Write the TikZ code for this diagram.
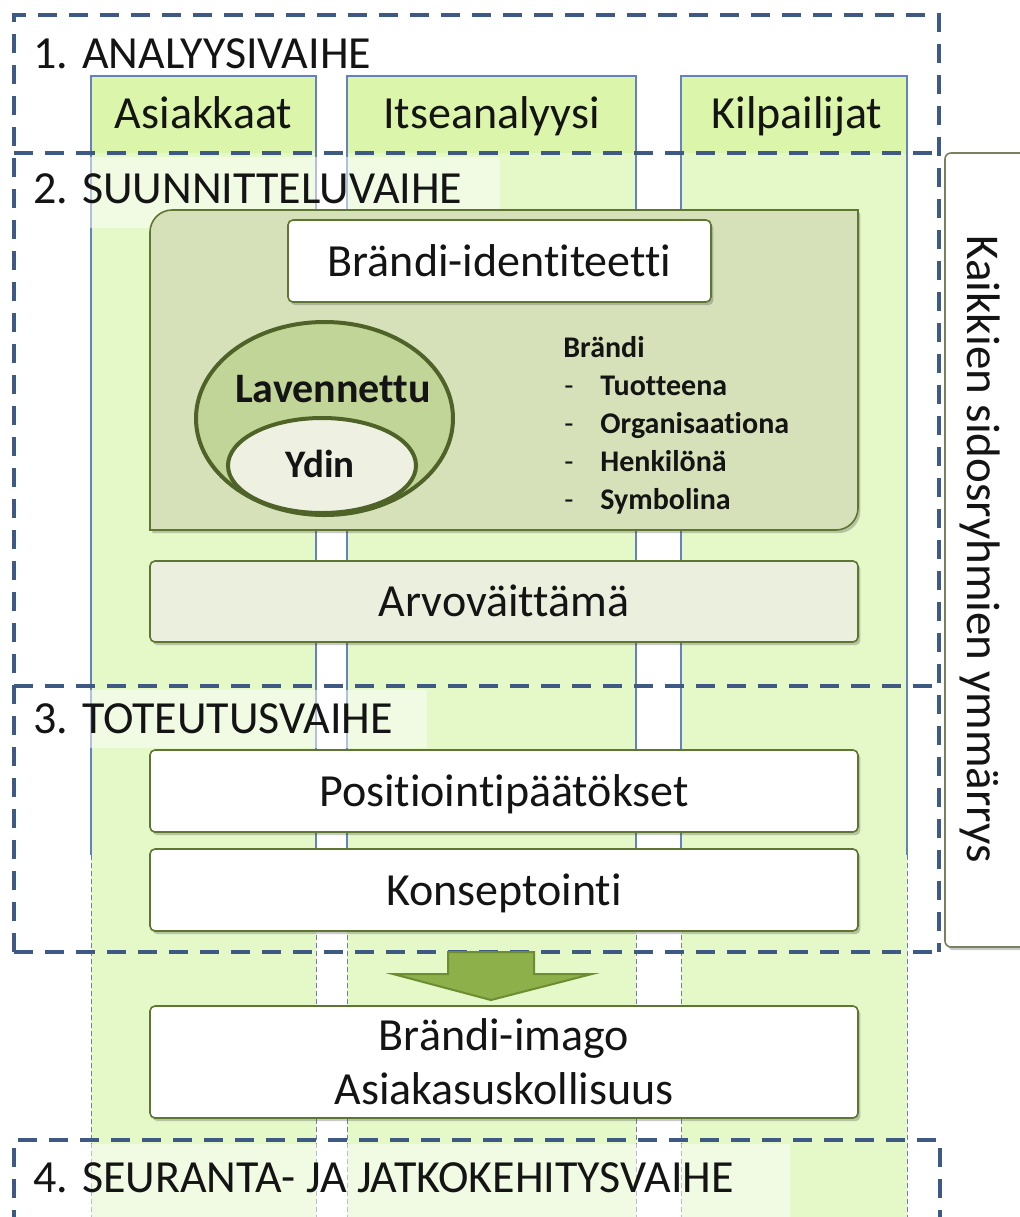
\documentclass[tikz,border=0pt]{standalone}
\usepackage{fontspec}
\setmainfont{Carlito}[Ligatures={NoCommon}]
\usetikzlibrary{shapes.geometric,shadows}
\definecolor{framec}{RGB}{62,90,132}
\definecolor{colhead}{RGB}{219,246,170}
\definecolor{colstrip}{RGB}{228,248,200}
\definecolor{colline}{RGB}{100,130,190}
\definecolor{boxline}{RGB}{95,117,50}
\definecolor{brandfill}{RGB}{214,225,185}
\definecolor{valfill}{RGB}{235,239,222}
\definecolor{outerfill}{RGB}{194,213,152}
\definecolor{innerfill}{RGB}{238,241,226}
\definecolor{ringline}{RGB}{79,98,40}
\definecolor{arrowfill}{RGB}{141,176,74}
\definecolor{arrowline}{RGB}{110,140,50}
\definecolor{sideline}{RGB}{120,130,95}
\definecolor{ink}{RGB}{20,20,20}

\begin{document}
\begin{tikzpicture}[x=0.5pt,y=-0.5pt,
  txt/.style={font=\fontsize{23pt}{28pt}\selectfont, text=ink, inner sep=0pt},
  phase/.style={txt, anchor=base west},
  headtxt/.style={txt, anchor=base},
  listtxt/.style={font=\fontsize{15pt}{18pt}\selectfont\bfseries, text=ink, inner sep=0pt, anchor=base west},
  ringtxt/.style={font=\fontsize{19.5pt}{22pt}\selectfont\bfseries, text=ink, inner sep=0pt, anchor=base},
  softshadow/.style={drop shadow={shadow xshift=1.2pt, shadow yshift=-1.6pt, opacity=0.28, fill=black!75}},
  card/.style={txt, draw=boxline, line width=0.8pt, rounded corners=2.5pt,
    minimum width=354pt, text height=15pt, text depth=0pt, softshadow},
  frame/.style={draw=framec, line width=2pt, dash pattern=on 9.5pt off 6pt},
  colborder/.style={draw=colline, line width=0.55pt},
  coldash/.style={draw=colline, line width=0.45pt, dash pattern=on 2.5pt off 1.5pt},
  labelbg/.style={fill=white, fill opacity=0.5},
]
\useasboundingbox (0,0) rectangle (1020,1217);
\fill[white] (0,0) rectangle (1020,1217);

% three analysis columns: bright header part and lighter strip running down
\foreach \l/\r in {91/316, 347/636, 681/907}{
  \fill[colhead] (\l,76) rectangle (\r,153);
  \fill[colstrip] (\l,153) rectangle (\r,1217);
  \draw[colborder] (\l,855) -- (\l,76) -- (\r,76) -- (\r,855);
  \draw[coldash] (\l,855) -- (\l,1217);
  \draw[coldash] (\r,855) -- (\r,1217);
}

% translucent panels behind the phase titles
\fill[labelbg] (18,157) rectangle (500,228);
\fill[labelbg] (18,690) rectangle (427,748);
\fill[labelbg] (18,1144) rectangle (790,1217);

% dashed phase frames (shared edges drawn once)
\draw[frame] (14,952) -- (14,15) -- (939,15) -- (939,952);
\draw[frame] (14,153) -- (939,153);
\draw[frame] (14,686) -- (939,686);
\draw[frame] (14,952) -- (939,952);
\draw[frame] (14,1260) -- (14,1140) -- (940,1140) -- (940,1260);

% phase titles
\node[phase] (p1) at (33,68) {1. ANALYYSIVAIHE};
\node[phase] (p2) at (33,203) {2. SUUNNITTELUVAIHE};
\node[phase] (p3) at (33,733) {3. TOTEUTUSVAIHE};
\node[phase] (p4) at (33,1192) {4. SEURANTA- JA JATKOKEHITYSVAIHE};

% column headers
\node[headtxt] (h1) at (203.5,128) {Asiakkaat};
\node[headtxt] (h2) at (491.5,128) {Itseanalyysi};
\node[headtxt] (h3) at (797,128) {Kilpailijat};

% brand panel with two diagonally rounded corners
\draw[fill=brandfill, draw=boxline, line width=0.8pt, softshadow]
  (150,232) .. controls (150,220) and (160,210) .. (172,210) -- (858,210)
  -- (858,508) .. controls (858,520) and (848,530) .. (836,530)
  -- (150,530) -- cycle;

\node[card, fill=white, minimum width=211.5pt, minimum height=41pt] (ident) at (499.5,261) {Brändi-identiteetti};

% extended and core brand
\node[ellipse, draw=ringline, line width=2pt, fill=outerfill,
  minimum width=128.5pt, minimum height=96.5pt, inner sep=0pt] (outer) at (324.5,418.5) {};
\node[ellipse, draw=ringline, line width=2pt, fill=innerfill,
  minimum width=94pt, minimum height=47.5pt, inner sep=0pt] (core) at (322,465.5) {};
\node[ringtxt, font=\fontsize{21pt}{24pt}\selectfont\bfseries] (lav) at (333,402) {Lavennettu};
\node[ringtxt] (ydin) at (320,477) {Ydin};

% brand perspectives
\node[listtxt] (b0) at (563,357) {Brändi};
\foreach \y/\t/\n in {395/Tuotteena/b1, 433/Organisaationa/b2, 471/Henkilönä/b3, 509/Symbolina/b4}{
  \node[listtxt, font=\fontsize{15pt}{18pt}\selectfont] (\n d) at (564,\y) {-};
  \node[listtxt] (\n) at (600,\y) {\t};
}

\node[card, fill=valfill, minimum height=40.5pt] (arvo) at (504,601.5) {Arvoväittämä};
\node[card, fill=white, minimum height=41pt] (pos) at (504,791) {Positiointipäätökset};
\node[card, fill=white, minimum height=41pt] (kons) at (504,890) {Konseptointi};

% block arrow towards the outcome
\draw[fill=arrowfill, draw=arrowline, line width=1pt, line join=miter]
  (448,952) -- (534,952) -- (534,974) -- (592,974) -- (491,1000)
  -- (393,974) -- (448,974) -- cycle;

\node[card, fill=white, minimum height=56pt] (img) at (504,1062) {};
\node[headtxt] (img1) at (504,1050) {Brändi-imago};
\node[headtxt] (img2) at (504,1104) {Asiakasuskollisuus};

% stakeholder understanding spanning the phases
\draw[fill=white, draw=sideline, line width=0.8pt, rounded corners=3pt, softshadow]
  (945,153) rectangle (1050,947);
\node[txt, anchor=base, rotate=-90, font=\fontsize{23.5pt}{28pt}\selectfont] (side) at (967,549) {Kaikkien sidosryhmien ymmärrys};
\end{tikzpicture}
\end{document}
